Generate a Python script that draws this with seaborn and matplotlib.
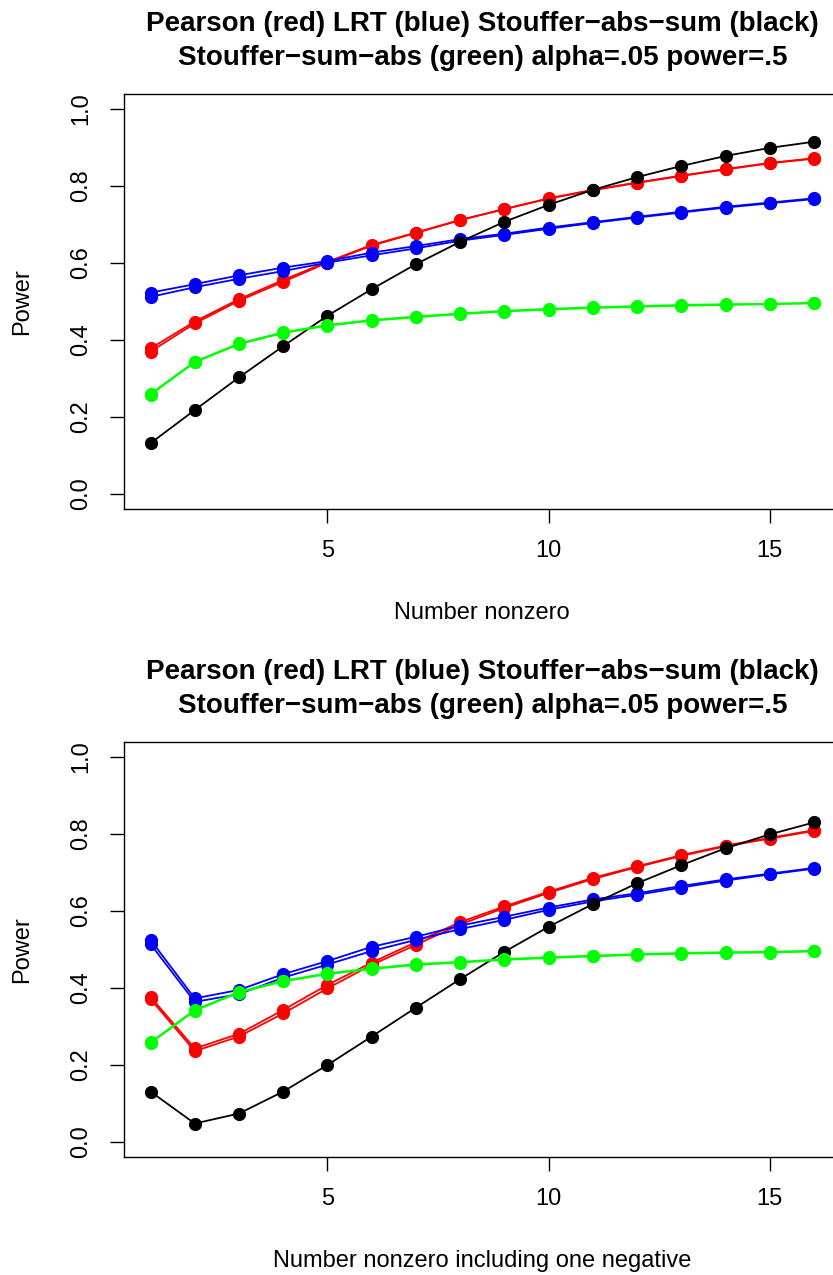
import matplotlib
matplotlib.use("Agg")
import matplotlib.pyplot as plt
import seaborn as sns

# number of nonzero effects
n_nonzero = list(range(1, 17))

# top panel: all nonzero effects positive
top_red_a = [0.378, 0.448, 0.506, 0.556, 0.603, 0.647, 0.679, 0.712, 0.740, 0.768, 0.790, 0.809, 0.827, 0.844, 0.860, 0.872]
top_red_b = [0.370, 0.443, 0.502, 0.551, 0.601, 0.645, 0.678, 0.711, 0.740, 0.767, 0.789, 0.808, 0.826, 0.843, 0.859, 0.871]
top_blue_a = [0.523, 0.545, 0.568, 0.588, 0.605, 0.627, 0.644, 0.662, 0.676, 0.692, 0.706, 0.720, 0.733, 0.746, 0.757, 0.768]
top_blue_b = [0.512, 0.537, 0.559, 0.579, 0.601, 0.620, 0.638, 0.658, 0.673, 0.689, 0.704, 0.718, 0.731, 0.744, 0.755, 0.766]
top_black = [0.132, 0.218, 0.303, 0.384, 0.463, 0.532, 0.597, 0.655, 0.707, 0.751, 0.790, 0.823, 0.852, 0.878, 0.899, 0.915]
top_green_a = [0.260, 0.344, 0.391, 0.420, 0.439, 0.452, 0.461, 0.469, 0.476, 0.481, 0.485, 0.488, 0.491, 0.493, 0.494, 0.497]
top_green_b = [0.258, 0.342, 0.389, 0.418, 0.437, 0.450, 0.459, 0.467, 0.474, 0.479, 0.483, 0.486, 0.489, 0.491, 0.493, 0.495]

# bottom panel: one of the nonzero effects negative
bot_red_a = [0.377, 0.243, 0.281, 0.343, 0.408, 0.466, 0.519, 0.571, 0.612, 0.650, 0.686, 0.716, 0.745, 0.770, 0.790, 0.810]
bot_red_b = [0.371, 0.236, 0.274, 0.334, 0.399, 0.460, 0.512, 0.565, 0.608, 0.647, 0.683, 0.714, 0.743, 0.768, 0.788, 0.808]
bot_blue_a = [0.525, 0.373, 0.395, 0.436, 0.470, 0.507, 0.533, 0.562, 0.585, 0.609, 0.630, 0.646, 0.665, 0.682, 0.697, 0.712]
bot_blue_b = [0.514, 0.364, 0.384, 0.427, 0.461, 0.496, 0.525, 0.553, 0.577, 0.603, 0.625, 0.642, 0.661, 0.679, 0.695, 0.710]
bot_black = [0.131, 0.048, 0.074, 0.131, 0.200, 0.274, 0.349, 0.423, 0.494, 0.559, 0.618, 0.672, 0.719, 0.763, 0.799, 0.830]
bot_green_a = [0.259, 0.343, 0.390, 0.419, 0.438, 0.451, 0.462, 0.468, 0.475, 0.480, 0.484, 0.488, 0.491, 0.493, 0.494, 0.497]
bot_green_b = [0.257, 0.341, 0.388, 0.417, 0.436, 0.449, 0.460, 0.466, 0.473, 0.478, 0.482, 0.486, 0.489, 0.491, 0.492, 0.495]

TITLE = ("Pearson (red) LRT (blue) Stouffer\u2212abs\u2212sum (black)\n"
         "Stouffer\u2212sum\u2212abs (green) alpha=.05 power=.5")
Y_TICKS = [0.0, 0.2, 0.4, 0.6, 0.8, 1.0]
Y_TICK_LABELS = ["0.0", "0.2", "0.4", "0.6", "0.8", "1.0"]
X_TICKS = [5, 10, 15]

sns.set_style("white")
plt.rcParams["font.family"] = ["Liberation Sans", "DejaVu Sans"]
plt.rcParams.update({"text.color": "black", "axes.labelcolor": "black",
                     "xtick.color": "black", "ytick.color": "black"})

W, H = 833, 1275
fig = plt.figure(figsize=(W / 100, H / 100), dpi=100)


def panel(top_px, series, xlabel):
    left, right, height = 124, 840.5, 415.8
    ax = fig.add_axes([left / W, 1 - (top_px + height) / H, (right - left) / W, height / H])
    # drawing order: red, blue, black, green
    for vals, col in series:
        sns.lineplot(x=n_nonzero, y=vals, color=col, marker="o", markersize=9.5,
                     markeredgewidth=0, linewidth=1.3, ax=ax)
    ax.set_xlim(0.4, 16.6)
    ax.set_ylim(-0.04, 1.04)
    ax.set_xticks(X_TICKS)
    ax.set_xticklabels([str(t) for t in X_TICKS])
    ax.set_yticks(Y_TICKS)
    ax.set_yticklabels(Y_TICK_LABELS, rotation=90, va="center")
    ax.tick_params(axis="both", direction="out", length=10, width=1.0,
                   color="black", labelsize=17, labelcolor="black")
    ax.tick_params(axis="y", pad=13, left=True)
    ax.tick_params(axis="x", pad=12, bottom=True)
    for s in ax.spines.values():
        s.set_color("black")
        s.set_linewidth(1.0)
    ax.set_xlabel(xlabel, fontsize=17, va="center")
    ax.xaxis.set_label_coords(0.5, -0.248)
    ax.set_ylabel("Power", fontsize=17, va="center")
    ax.yaxis.set_label_coords(-0.1424, 0.5)
    ax.set_title(TITLE, fontsize=20, fontweight="bold", y=1.1277, va="center",
                 linespacing=1.4, pad=0, color="black")
    return ax


panel(93.6, [(top_red_a, "#FF0000"), (top_red_b, "#FF0000"),
             (top_blue_a, "#0000FF"), (top_blue_b, "#0000FF"),
             (top_black, "black"),
             (top_green_a, "#00FF00"), (top_green_b, "#00FF00")],
      "Number nonzero")
panel(741.6, [(bot_red_a, "#FF0000"), (bot_red_b, "#FF0000"),
              (bot_blue_a, "#0000FF"), (bot_blue_b, "#0000FF"),
              (bot_black, "black"),
              (bot_green_a, "#00FF00"), (bot_green_b, "#00FF00")],
      "Number nonzero including one negative")

fig.savefig("out.png", dpi=100)
